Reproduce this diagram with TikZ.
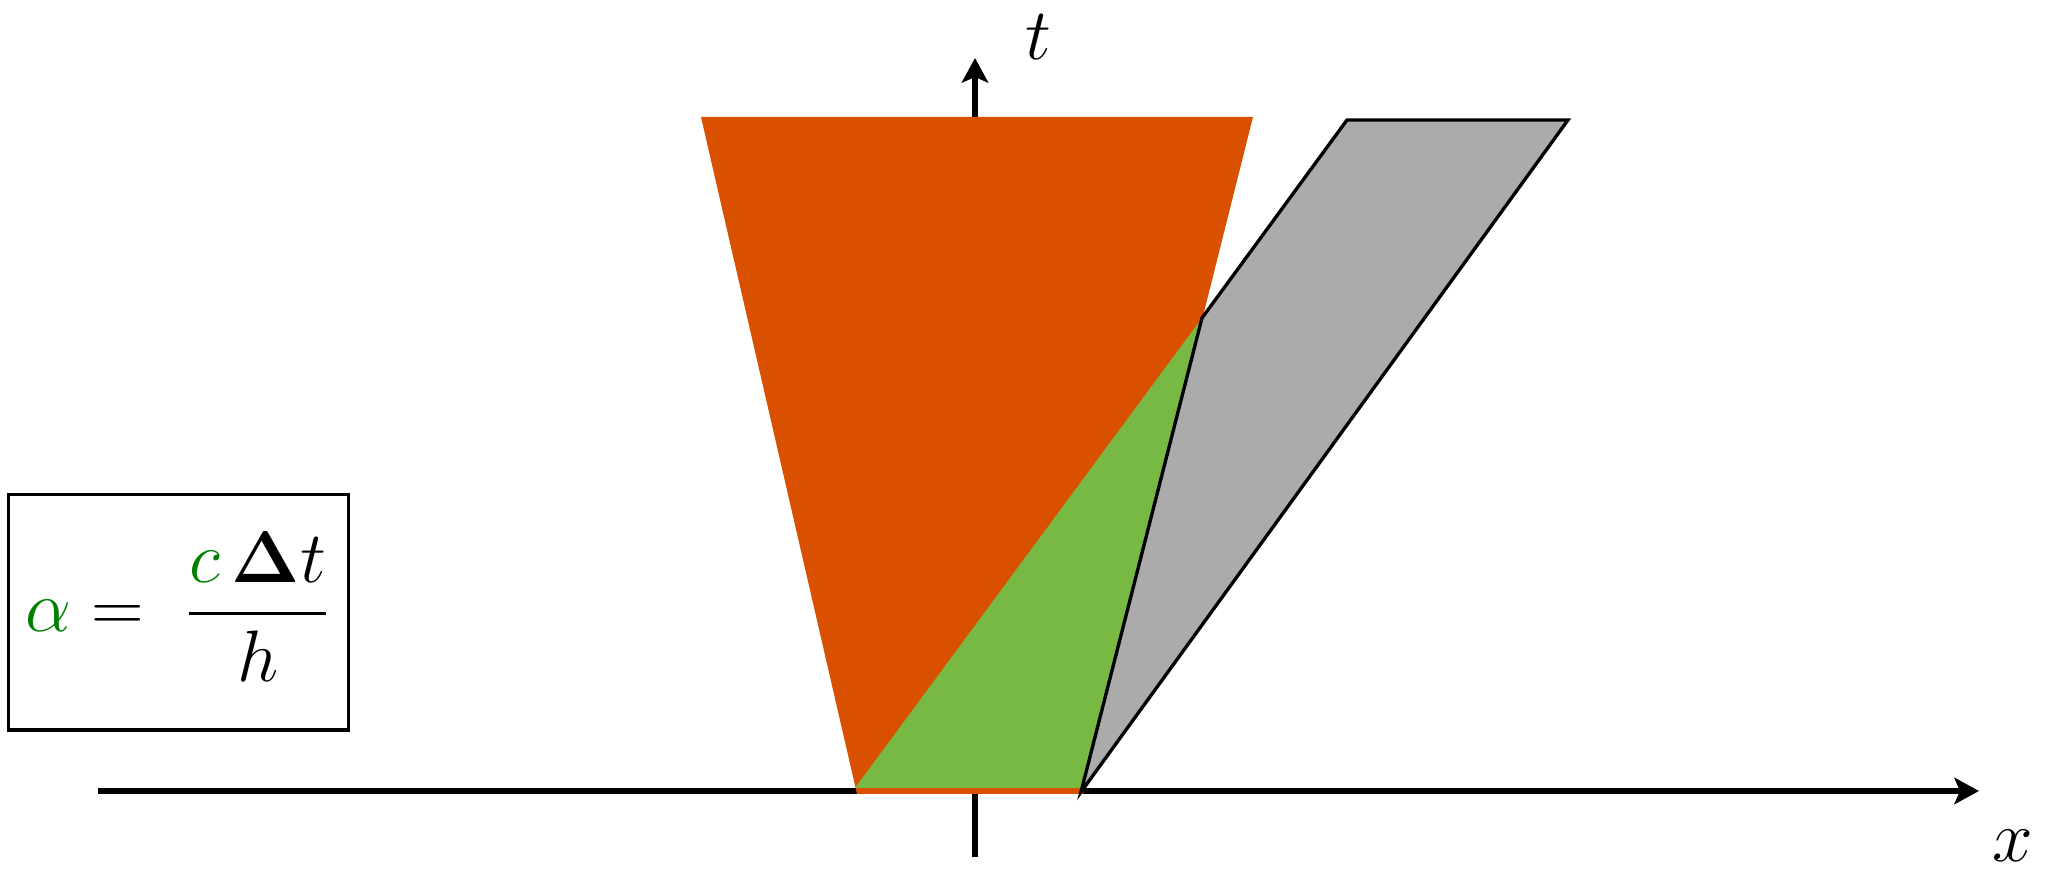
\documentclass[tikz,border=0pt]{standalone}
\usepackage{amsmath}
\usetikzlibrary{arrows.meta}
\definecolor{orng}{RGB}{217,80,0}
\definecolor{grn}{RGB}{120,185,67}
\definecolor{gry}{RGB}{171,171,171}
\definecolor{alphagreen}{RGB}{0,128,0}
\tikzset{
  axis/.style={line width=1.7pt,-{Stealth[length=7pt,width=7.5pt,inset=1.6pt]}},
  outline/.style={draw=black,line width=0.95pt,line join=miter},
  lbl/.style={font=\fontsize{21}{25}\selectfont,inner sep=0pt},
}
\begin{document}
\begin{tikzpicture}[x=0.01cm,y=-0.01cm]
\useasboundingbox (0,0) rectangle (2047,874);
% axes
\coordinate (xs) at (98,791);
\coordinate (xe) at (1979,791);
\coordinate (ts) at (975,857);
\coordinate (te) at (975,58);
\draw[axis] (xs) -- (xe);
\draw[axis] (ts) -- (te);
% orange trapezoid
\fill[orng] (701,117) -- (1253,117) -- (1083,794) -- (857,794) -- cycle;
% green triangle
\fill[grn] (855,788) -- (1081,788) -- (1202,318) -- cycle;
% gray parallelogram
\filldraw[fill=gry,outline] (1081,792) -- (1202,318) -- (1347,120) -- (1568,120) -- cycle;
% labels
\node[lbl] (tl) at (1038,37) {$t$};
\node[lbl] (xl) at (2013,846) {$x$};
% formula box
\node[draw,line width=0.9pt,minimum width=3.39cm,minimum height=2.35cm,inner sep=0pt] (box) at (178.5,612.5) {};
\node[lbl] (formula) at (178,607) {$\displaystyle {\color{alphagreen}\alpha} = \;\frac{{\color{alphagreen}c}\,\mathbf{\Delta} t}{h}$};
\end{tikzpicture}
\end{document}
